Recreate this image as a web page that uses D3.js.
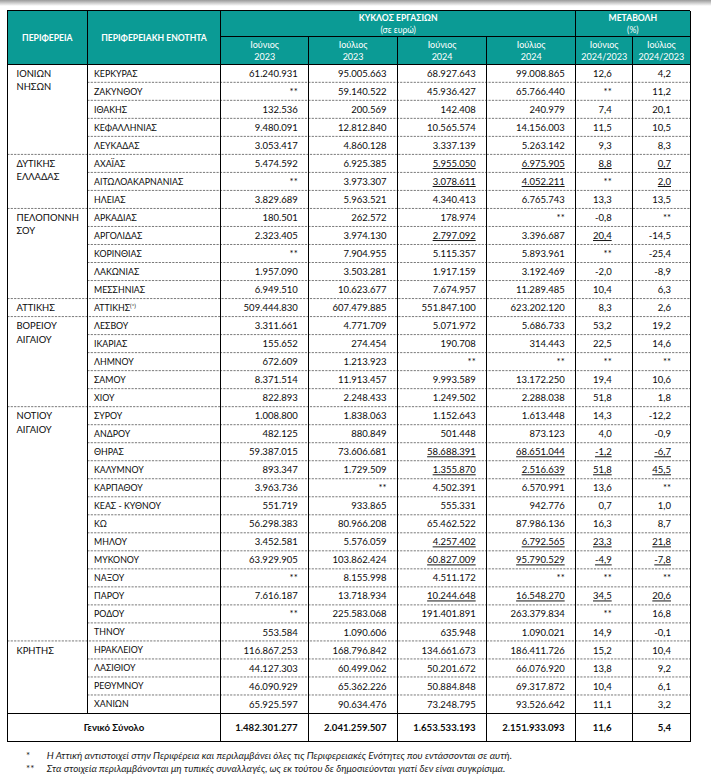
<!DOCTYPE html>
<html>
<head>
<meta charset="utf-8">
<script src="https://cdn.jsdelivr.net/npm/d3@7"></script>
<style>
  html, body { margin: 0; padding: 0; background: #fff; }
  svg { display: block; }
  text { font-family: Lato, "Open Sans", sans-serif; }
</style>
</head>
<body>
<svg id="chart" width="711" height="775"></svg>
<script>
// ---------------- DATA ----------------
const regionNames = [["ΙΟΝΙΩΝ", "ΝΗΣΩΝ"], ["ΔΥΤΙΚΗΣ", "ΕΛΛΑΔΑΣ"], ["ΠΕΛΟΠΟΝΝΗ", "ΣΟΥ"], ["ΑΤΤΙΚΗΣ"], ["ΒΟΡΕΙΟΥ", "ΑΙΓΑΙΟΥ"], ["ΝΟΤΙΟΥ", "ΑΙΓΑΙΟΥ"], ["ΚΡΗΤΗΣ"]];
const regionSizes = [5, 3, 5, 1, 5, 13, 4];

const units = ["ΚΕΡΚΥΡΑΣ", "ΖΑΚΥΝΘΟΥ", "ΙΘΑΚΗΣ", "ΚΕΦΑΛΛΗΝΙΑΣ", "ΛΕΥΚΑΔΑΣ",
  "ΑΧΑΪΑΣ", "ΑΙΤΩΛΟΑΚΑΡΝΑΝΙΑΣ", "ΗΛΕΙΑΣ",
  "ΑΡΚΑΔΙΑΣ", "ΑΡΓΟΛΙΔΑΣ", "ΚΟΡΙΝΘΙΑΣ", "ΛΑΚΩΝΙΑΣ", "ΜΕΣΣΗΝΙΑΣ",
  "ΑΤΤΙΚΗΣ",
  "ΛΕΣΒΟΥ", "ΙΚΑΡΙΑΣ", "ΛΗΜΝΟΥ", "ΣΑΜΟΥ", "ΧΙΟΥ",
  "ΣΥΡΟΥ", "ΑΝΔΡΟΥ", "ΘΗΡΑΣ", "ΚΑΛΥΜΝΟΥ", "ΚΑΡΠΑΘΟΥ", "ΚΕΑΣ - ΚΥΘΝΟΥ", "ΚΩ", "ΜΗΛΟΥ", "ΜΥΚΟΝΟΥ", "ΝΑΞΟΥ", "ΠΑΡΟΥ", "ΡΟΔΟΥ", "ΤΗΝΟΥ",
  "ΗΡΑΚΛΕΙΟΥ", "ΛΑΣΙΘΙΟΥ", "ΡΕΘΥΜΝΟΥ", "ΧΑΝΙΩΝ"];

// null = "**" (not published)
const jun2023 = [61240931, null, 132536, 9480091, 3053417,
  5474592, null, 3829689,
  180501, 2323405, null, 1957090, 6949510,
  509444830,
  3311661, 155652, 672609, 8371514, 822893,
  1008800, 482125, 59387015, 893347, 3963736, 551719, 56298383, 3452581, 63929905, null, 7616187, null, 553584,
  116867253, 44127303, 46090929, 65925597];
const jul2023 = [95005663, 59140522, 200569, 12812840, 4860128,
  6925385, 3973307, 5963521,
  262572, 3974130, 7904955, 3503281, 10623677,
  607479885,
  4771709, 274454, 1213923, 11913457, 2248433,
  1838063, 880849, 73606681, 1729509, null, 933865, 80966208, 5576059, 103862424, 8155998, 13718934, 225583068, 1090606,
  168796842, 60499062, 65362226, 90634476];
const jun2024 = [68927643, 45936427, 142408, 10565574, 3337139,
  5955050, 3078611, 4340413,
  178974, 2797092, 5115357, 1917159, 7674957,
  551847100,
  5071972, 190708, null, 9993589, 1249502,
  1152643, 501448, 58688391, 1355870, 4502391, 555331, 65462522, 4257402, 60827009, 4511172, 10244648, 191401891, 635948,
  134661673, 50201672, 50884848, 73248795];
const jul2024 = [99008865, 65766440, 240979, 14156003, 5263142,
  6975905, 4052211, 6765743,
  null, 3396687, 5893961, 3192469, 11289485,
  623202120,
  5686733, 314443, null, 13172250, 2288038,
  1613448, 873123, 68651044, 2516639, 6570991, 942776, 87986136, 6792565, 95790529, null, 16548270, 263379834, 1090021,
  186411726, 66076920, 69317872, 93526642];
const chgJun = [12.6, null, 7.4, 11.5, 9.3,
  8.8, null, 13.3,
  -0.8, 20.4, null, -2.0, 10.4,
  8.3,
  53.2, 22.5, null, 19.4, 51.8,
  14.3, 4.0, -1.2, 51.8, 13.6, 0.7, 16.3, 23.3, -4.9, null, 34.5, null, 14.9,
  15.2, 13.8, 10.4, 11.1];
const chgJul = [4.2, 11.2, 20.1, 10.5, 8.3,
  0.7, 2.0, 13.5,
  null, -14.5, -25.4, -8.9, 6.3,
  2.6,
  19.2, 14.6, null, 10.6, 1.8,
  -12.2, -0.9, -6.7, 45.5, null, 1.0, 8.7, 21.8, -7.8, null, 20.6, 16.8, -0.1,
  10.4, 9.2, 6.1, 3.2];

const totalLabel = "Γενικό Σύνολο";
const totals = [1482301277, 2041259507, 1653533193, 2151933093, 11.6, 5.4];

// cells shown underlined in the source (unit, column)
const underlined = [
  ["ΑΧΑΪΑΣ", "jun2024"], ["ΑΧΑΪΑΣ", "jul2024"], ["ΑΧΑΪΑΣ", "chgJun"], ["ΑΧΑΪΑΣ", "chgJul"],
  ["ΑΙΤΩΛΟΑΚΑΡΝΑΝΙΑΣ", "jun2024"], ["ΑΙΤΩΛΟΑΚΑΡΝΑΝΙΑΣ", "jul2024"], ["ΑΙΤΩΛΟΑΚΑΡΝΑΝΙΑΣ", "chgJul"],
  ["ΑΡΓΟΛΙΔΑΣ", "jun2024"], ["ΑΡΓΟΛΙΔΑΣ", "chgJun"],
  ["ΘΗΡΑΣ", "jun2024"], ["ΘΗΡΑΣ", "jul2024"], ["ΘΗΡΑΣ", "chgJun"], ["ΘΗΡΑΣ", "chgJul"],
  ["ΚΑΛΥΜΝΟΥ", "jun2024"], ["ΚΑΛΥΜΝΟΥ", "jul2024"], ["ΚΑΛΥΜΝΟΥ", "chgJun"], ["ΚΑΛΥΜΝΟΥ", "chgJul"],
  ["ΜΗΛΟΥ", "jun2024"], ["ΜΗΛΟΥ", "jul2024"], ["ΜΗΛΟΥ", "chgJun"], ["ΜΗΛΟΥ", "chgJul"],
  ["ΜΥΚΟΝΟΥ", "jun2024"], ["ΜΥΚΟΝΟΥ", "jul2024"], ["ΜΥΚΟΝΟΥ", "chgJun"], ["ΜΥΚΟΝΟΥ", "chgJul"],
  ["ΠΑΡΟΥ", "jun2024"], ["ΠΑΡΟΥ", "jul2024"], ["ΠΑΡΟΥ", "chgJun"], ["ΠΑΡΟΥ", "chgJul"]
];

const headRegion = "ΠΕΡΙΦΕΡΕΙΑ";
const headUnit = "ΠΕΡΙΦΕΡΕΙΑΚΗ ΕΝΟΤΗΤΑ";
const headTurnover = ["ΚΥΚΛΟΣ ΕΡΓΑΣΙΩΝ", "(σε ευρώ)"];
const headChange = ["ΜΕΤΑΒΟΛΗ", "(%)"];
const subHeads = [["Ιούνιος", "2023"], ["Ιούλιος", "2023"], ["Ιούνιος", "2024"], ["Ιούλιος", "2024"], ["Ιούνιος", "2024/2023"], ["Ιούλιος", "2024/2023"]];
const footnotes = [
  ["*", "Η Αττική αντιστοιχεί στην Περιφέρεια και περιλαμβάνει όλες τις Περιφερειακές Ενότητες που εντάσσονται σε αυτή."],
  ["**", "Στα στοιχεία περιλαμβάνονται μη τυπικές συναλλαγές, ως εκ τούτου δε δημοσιεύονται γιατί δεν είναι συγκρίσιμα."]
];

// ---------------- LAYOUT ----------------
const TEAL = "#0b9b95";
const colKeys = ["region", "unit", "jun2023", "jul2023", "jun2024", "jul2024", "chgJun", "chgJul"];
const colEdges = [7.3, 87.3, 220.7, 308.7, 397.5, 486.7, 575.7, 632.7, 690];
const colLeft = d3.scaleOrdinal().domain(colKeys).range(colEdges.slice(0, -1));
const colRight = d3.scaleOrdinal().domain(colKeys).range(colEdges.slice(1));
const rightPad = d3.scaleOrdinal().domain(colKeys).range([0, 0, 11, 11, 11, 11, 21, 19]);

const headTop = 10.7, headMid = 36.7, headBottom = 64.3;
const bodyBottom = 713.0, totalBottom = 741.7;

const y = d3.scaleBand().domain(units).range([headBottom, bodyBottom]).padding(0);

const loc = d3.formatLocale({ decimal: ",", thousands: ".", grouping: [3], currency: ["", ""], minus: "-" });
const fmtInt = loc.format(",d");
const fmtPct = loc.format(".1f");
const series = { jun2023, jul2023, jun2024, jul2024, chgJun, chgJul };
const numCols = ["jun2023", "jul2023", "jun2024", "jul2024", "chgJun", "chgJul"];
const fmtFor = k => (k.startsWith("chg") ? fmtPct : fmtInt);
const isUnder = (u, k) => underlined.some(d => d[0] === u && d[1] === k);

const svg = d3.select("#chart");

// top shading (scan edge)
const defs = svg.append("defs");
const grad = defs.append("linearGradient").attr("id", "topShade").attr("x1", 0).attr("y1", 0).attr("x2", 0).attr("y2", 1);
grad.append("stop").attr("offset", "0%").attr("stop-color", "#9a9a9a");
grad.append("stop").attr("offset", "100%").attr("stop-color", "#ffffff");
svg.append("rect").attr("x", 0).attr("y", 0).attr("width", 711).attr("height", 6).attr("fill", "url(#topShade)");

// header background
svg.append("rect")
  .attr("x", colLeft("region")).attr("y", headTop)
  .attr("width", colRight("chgJul") - colLeft("region")).attr("height", headBottom - headTop)
  .attr("fill", TEAL);

// ---------------- HEADER TEXT ----------------
const hdr = svg.append("g").attr("fill", "#fff").attr("text-anchor", "middle");
const headFont = 8.6;
hdr.append("text")
  .attr("x", (colLeft("region") + colRight("region")) / 2).attr("y", (headTop + headBottom) / 2 + 3)
  .attr("font-size", headFont).attr("font-weight", "bold").text(headRegion);
hdr.append("text")
  .attr("x", (colLeft("unit") + colRight("unit")) / 2).attr("y", (headTop + headBottom) / 2 + 3)
  .attr("font-size", headFont).attr("font-weight", "bold").text(headUnit);

function twoLine(lines, x, y0, dy, weight, size) {
  lines.forEach((t, i) => {
    hdr.append("text").attr("x", x).attr("y", y0 + i * dy)
      .attr("font-size", size).attr("font-weight", weight && i === 0 ? "bold" : "normal").text(t);
  });
}
twoLine(headTurnover, (colLeft("jun2023") + colRight("jul2024")) / 2, 20.5, 12.6, true, headFont);
twoLine(headChange, (colLeft("chgJun") + colRight("chgJul")) / 2, 20.5, 12.6, true, headFont);
numCols.forEach((k, i) => {
  twoLine(subHeads[i], (colLeft(k) + colRight(k)) / 2, 48, 12.3, false, 9);
});

// ---------------- BODY ----------------
const body = svg.append("g").attr("fill", "#0a0a0a");

const regionStarts = [];
let acc = 0;
regionSizes.forEach(s => { regionStarts.push(acc); acc += s; });
const startSet = new Set(regionStarts.map(i => units[i]));

// row separators (dashed)
body.append("g").selectAll("line").data(units.slice(1)).join("line")
  .attr("x1", d => startSet.has(d) ? colLeft("region") : colLeft("unit"))
  .attr("x2", colRight("chgJul"))
  .attr("y1", d => y(d)).attr("y2", d => y(d))
  .attr("stroke", "#7a7a7a").attr("stroke-width", 1).attr("stroke-dasharray", "2.2,1.2");

// region labels
const regG = body.append("g");
regionNames.forEach((lines, i) => {
  const top = y(units[regionStarts[i]]);
  lines.forEach((t, j) => {
    regG.append("text").attr("x", 16.5).attr("y", top + 12.6 + j * 13.4)
      .attr("font-size", 9.4).text(t);
  });
});

// unit labels
const unitG = body.append("g").selectAll("text").data(units).join("text")
  .attr("x", 94).attr("y", d => y(d) + y.bandwidth() / 2 + 3.5)
  .attr("font-size", 8.8);
unitG.each(function (d) {
  const t = d3.select(this);
  t.append("tspan").text(d);
  if (d === "ΑΤΤΙΚΗΣ") {
    t.append("tspan").attr("font-size", 6).attr("dy", -3.2).text("(*)");
  }
});

// numeric cells
numCols.forEach(k => {
  const fmt = fmtFor(k);
  body.append("g").selectAll("text").data(units).join("text")
    .attr("x", colRight(k) - rightPad(k))
    .attr("y", d => y(d) + y.bandwidth() / 2 + 3.6)
    .attr("text-anchor", "end")
    .attr("font-size", 9.5)
    .style("text-decoration", d => isUnder(d, k) ? "underline" : null)
    .text((d, i) => series[k][i] == null ? "**" : fmt(series[k][i]));
});

// total row
const totG = svg.append("g").attr("fill", "#0a0a0a").attr("font-weight", "bold");
const totY = (bodyBottom + totalBottom) / 2 + 3.6;
totG.append("text").attr("x", (colLeft("region") + colRight("unit")) / 2).attr("y", totY)
  .attr("text-anchor", "middle").attr("font-size", 9.6).text(totalLabel);
numCols.forEach((k, i) => {
  totG.append("text").attr("x", colRight(k) - rightPad(k)).attr("y", totY)
    .attr("text-anchor", "end").attr("font-size", 9.6)
    .text(fmtFor(k)(totals[i]));
});

// ---------------- GRID LINES ----------------
const grid = svg.append("g").attr("stroke", "#000").attr("stroke-width", 1).attr("shape-rendering", "crispEdges");
colEdges.forEach((x, i) => {
  let y1 = headTop;
  if (i >= 3 && i <= 5) y1 = headMid;
  if (i === 7) y1 = headMid;
  let y2 = totalBottom;
  if (i === 1) y2 = bodyBottom;
  grid.append("line").attr("x1", x).attr("x2", x).attr("y1", y1).attr("y2", y2);
});
[[headTop, colEdges[0], colEdges[8]],
 [headMid, colEdges[2], colEdges[8]],
 [headBottom, colEdges[0], colEdges[8]],
 [bodyBottom, colEdges[0], colEdges[8]],
 [totalBottom, colEdges[0], colEdges[8]]].forEach(([yy, x1, x2]) => {
  grid.append("line").attr("x1", x1).attr("x2", x2).attr("y1", yy).attr("y2", yy);
});

// ---------------- FOOTNOTES ----------------
const fn = svg.append("g").attr("fill", "#1a1a1a").attr("font-style", "italic").attr("font-size", 9.8);
footnotes.forEach((f, i) => {
  fn.append("text").attr("x", 26).attr("y", 759 + i * 13).attr("font-style", "normal").text(f[0]);
  fn.append("text").attr("x", 46.7).attr("y", 759 + i * 13).text(f[1]);
});
</script>
</body>
</html>
